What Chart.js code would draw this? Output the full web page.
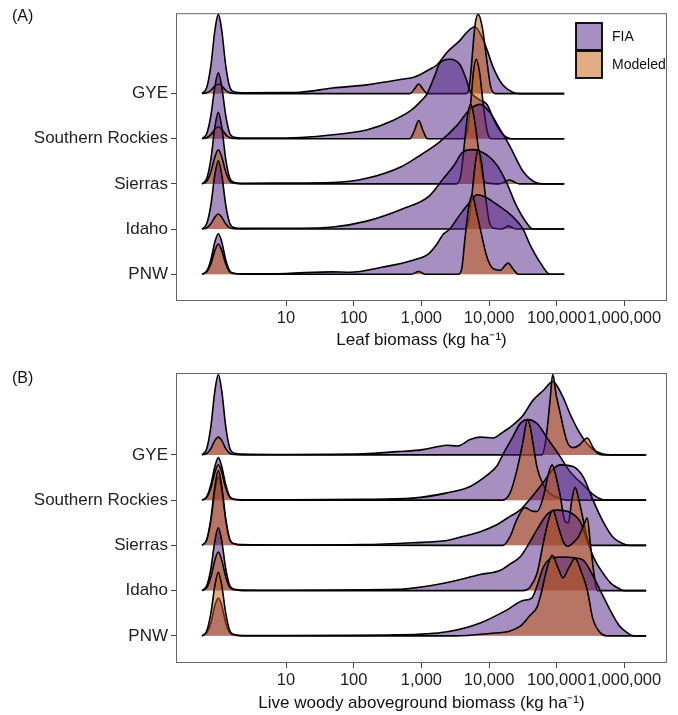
<!DOCTYPE html>
<html>
<head>
<meta charset="utf-8">
<script src="https://cdn.jsdelivr.net/npm/chart.js@4.4.1/dist/chart.umd.min.js"></script>
<style>
  body { margin: 0; background: #fff; }
  #wrap { position: relative; width: 678px; height: 715px; }
  canvas { position: absolute; left: 0; }
</style>
</head>
<body>
<div id="wrap">
  <canvas id="leafChart" width="678" height="357" style="top:0"></canvas>
  <canvas id="woodChart" width="678" height="358" style="top:357px"></canvas>
</div>
<script>
// ridges from top to bottom
const regions = ['GYE', 'Southern Rockies', 'Sierras', 'Idaho', 'PNW'];
// x positions are log10(biomass), heights are scaled density (peak = 1)
const xTicks = [1, 2, 3, 4, 5, 6];

// (A) leaf biomass
const leafFiaGYE = [[-0.24,0],[-0.17,0.08],[-0.11,0.35],[-0.05,0.8],[0,1],[0.05,0.8],[0.11,0.35],[0.17,0.08],[0.24,0.02],[0.35,0.01],[1,0.012],[1.21,0.016],[1.69,0.07],[2.19,0.11],[2.71,0.18],[2.9,0.21],[3.11,0.3],[3.23,0.36],[3.38,0.52],[3.57,0.67],[3.67,0.77],[3.79,0.84],[3.91,0.68],[3.97,0.55],[4.06,0.33],[4.2,0.11],[4.34,0.02],[4.46,0],[5.11,0]];
const leafModGYE = [[-0.24,0],[-0.17,0.01],[-0.11,0.042],[-0.05,0.096],[0,0.12],[0.05,0.096],[0.11,0.042],[0.17,0.01],[0.24,0.002],[0.35,0],[2.83,0],[2.9,0.06],[2.96,0.12],[3.02,0.06],[3.09,0],[3.66,0],[3.71,0.1],[3.75,0.46],[3.79,0.85],[3.84,1],[3.9,0.83],[3.96,0.46],[4.02,0.1],[4.09,0],[5.11,0]];
const leafFiaSR = [[-0.24,0],[-0.17,0.066],[-0.11,0.29],[-0.05,0.66],[0,0.83],[0.05,0.66],[0.11,0.29],[0.17,0.066],[0.24,0.017],[0.35,0.008],[1,0.01],[1.21,0.015],[1.69,0.05],[2.19,0.11],[2.58,0.23],[2.85,0.36],[3,0.48],[3.08,0.56],[3.2,0.8],[3.27,0.95],[3.42,1],[3.57,0.93],[3.67,0.73],[3.72,0.6],[3.84,0.5],[3.97,0.43],[4.09,0.2],[4.2,0.06],[4.34,0],[5.11,0]];
const leafModSR = [[-0.24,0],[-0.17,0.012],[-0.11,0.052],[-0.05,0.12],[0,0.15],[0.05,0.12],[0.11,0.052],[0.17,0.012],[0.24,0.003],[0.35,0],[2.83,0],[2.9,0.11],[2.96,0.23],[3.02,0.11],[3.09,0],[3.62,0],[3.68,0.1],[3.73,0.46],[3.77,0.85],[3.81,1],[3.86,0.83],[3.91,0.46],[3.97,0.1],[4.03,0],[5.11,0]];
const leafFiaSierras = [[-0.24,0],[-0.17,0.072],[-0.11,0.31],[-0.05,0.72],[0,0.9],[0.05,0.72],[0.11,0.31],[0.17,0.072],[0.24,0.018],[0.35,0.009],[1,0.01],[1.69,0.016],[2.19,0.07],[2.71,0.22],[3,0.37],[3.27,0.53],[3.53,0.74],[3.72,0.94],[3.87,1],[4.01,0.9],[4.16,0.69],[4.31,0.47],[4.5,0.16],[4.71,0.01],[4.8,0],[5.11,0]];
const leafModSierras = [[-0.24,0],[-0.17,0.034],[-0.11,0.15],[-0.05,0.34],[0,0.43],[0.05,0.34],[0.11,0.15],[0.17,0.034],[0.24,0.009],[0.35,0],[3.52,0],[3.58,0.1],[3.63,0.46],[3.68,0.85],[3.73,1],[3.78,0.83],[3.84,0.46],[3.9,0.1],[3.97,0.01],[4.15,0],[4.22,0.02],[4.3,0.05],[4.38,0.02],[4.45,0],[5.11,0]];
const leafFiaIdaho = [[-0.24,0],[-0.17,0.069],[-0.11,0.3],[-0.05,0.69],[0,0.86],[0.05,0.69],[0.11,0.3],[0.17,0.069],[0.24,0.017],[0.35,0.009],[1,0.01],[1.21,0.01],[1.69,0.025],[2.19,0.1],[2.71,0.25],[3.11,0.41],[3.32,0.63],[3.48,0.8],[3.6,0.96],[3.75,1],[3.97,0.93],[4.12,0.8],[4.26,0.58],[4.4,0.3],[4.56,0.07],[4.65,0],[5.11,0]];
const leafModIdaho = [[-0.24,0],[-0.17,0.015],[-0.11,0.066],[-0.05,0.15],[0,0.19],[0.05,0.15],[0.11,0.066],[0.17,0.015],[0.24,0.004],[0.35,0],[3.63,0],[3.7,0.1],[3.75,0.46],[3.8,0.85],[3.84,1],[3.89,0.83],[3.94,0.46],[4,0.1],[4.07,0.01],[4.18,0],[4.24,0.02],[4.28,0.04],[4.34,0.02],[4.4,0],[5.11,0]];
const leafFiaPNW = [[-0.24,0],[-0.17,0.041],[-0.11,0.18],[-0.05,0.41],[0,0.51],[0.05,0.41],[0.11,0.18],[0.17,0.041],[0.24,0.01],[0.35,0.005],[1,0.01],[1.69,0.03],[1.94,0.025],[2.43,0.09],[2.85,0.17],[3.11,0.26],[3.23,0.38],[3.32,0.5],[3.42,0.57],[3.57,0.75],[3.72,0.91],[3.82,1],[3.97,0.96],[4.06,0.91],[4.26,0.79],[4.41,0.67],[4.5,0.57],[4.6,0.38],[4.76,0.14],[4.9,0],[5.11,0]];
const leafModPNW = [[-0.24,0],[-0.17,0.03],[-0.11,0.13],[-0.05,0.3],[0,0.38],[0.05,0.3],[0.11,0.13],[0.17,0.03],[0.24,0.008],[0.35,0],[2.85,0],[2.96,0.035],[3.06,0],[3.55,0],[3.6,0.09],[3.64,0.42],[3.7,0.85],[3.75,1],[3.81,0.8],[3.87,0.57],[3.97,0.21],[4.06,0.07],[4.16,0.05],[4.28,0.14],[4.36,0.06],[4.43,0],[5.11,0]];

// (B) live woody aboveground biomass
const woodFiaGYE = [[-0.24,0],[-0.17,0.08],[-0.11,0.35],[-0.05,0.8],[0,1],[0.05,0.8],[0.11,0.35],[0.17,0.08],[0.24,0.02],[0.35,0.01],[1,0.005],[2.14,0.012],[2.64,0.04],[3.02,0.065],[3.23,0.1],[3.38,0.12],[3.53,0.11],[3.72,0.19],[3.87,0.22],[4.06,0.21],[4.2,0.28],[4.35,0.37],[4.5,0.49],[4.65,0.68],[4.8,0.8],[4.94,0.91],[5.09,0.72],[5.19,0.52],[5.3,0.33],[5.42,0.17],[5.53,0.07],[5.68,0.01],[5.8,0],[6.32,0]];
const woodModGYE = [[-0.24,0],[-0.17,0.018],[-0.11,0.077],[-0.05,0.18],[0,0.22],[0.05,0.18],[0.11,0.077],[0.17,0.018],[0.24,0.004],[0.35,0],[4.78,0],[4.84,0.2],[4.9,0.67],[4.94,1],[4.99,0.75],[5.05,0.52],[5.15,0.17],[5.24,0.09],[5.33,0.12],[5.45,0.21],[5.53,0.1],[5.6,0.02],[5.68,0],[6.32,0]];
const woodFiaSR = [[-0.24,0],[-0.17,0.042],[-0.11,0.19],[-0.05,0.42],[0,0.53],[0.05,0.42],[0.11,0.19],[0.17,0.042],[0.24,0.011],[0.35,0.005],[1,0.005],[2.14,0.01],[2.87,0.025],[3.38,0.09],[3.72,0.17],[3.97,0.31],[4.12,0.43],[4.2,0.56],[4.34,0.77],[4.46,0.95],[4.57,1],[4.71,0.95],[4.86,0.77],[5.05,0.54],[5.19,0.36],[5.39,0.19],[5.57,0.05],[5.74,0],[6.32,0]];
const woodModSR = [[-0.24,0],[-0.17,0.035],[-0.11,0.15],[-0.05,0.35],[0,0.44],[0.05,0.35],[0.11,0.15],[0.17,0.035],[0.24,0.009],[0.35,0],[4.2,0],[4.31,0.09],[4.41,0.37],[4.49,0.68],[4.57,1],[4.61,0.9],[4.65,0.7],[4.71,0.4],[4.8,0.19],[4.9,0.08],[5.05,0.02],[5.15,0],[6.32,0]];
const woodFiaSierras = [[-0.24,0],[-0.17,0.068],[-0.11,0.3],[-0.05,0.68],[0,0.85],[0.05,0.68],[0.11,0.3],[0.17,0.068],[0.24,0.017],[0.35,0.009],[1,0.005],[2.14,0.01],[2.87,0.033],[3.38,0.06],[3.61,0.11],[3.87,0.17],[4.12,0.26],[4.31,0.36],[4.46,0.44],[4.6,0.57],[4.8,0.78],[4.94,0.94],[5.05,1],[5.24,0.98],[5.39,0.85],[5.53,0.57],[5.68,0.3],[5.83,0.1],[5.98,0.02],[6.08,0],[6.32,0]];
const woodModSierras = [[-0.24,0],[-0.17,0.074],[-0.11,0.33],[-0.05,0.74],[0,0.93],[0.05,0.74],[0.11,0.33],[0.17,0.074],[0.24,0.019],[0.35,0.005],[4.2,0],[4.31,0.11],[4.41,0.32],[4.53,0.47],[4.62,0.43],[4.71,0.42],[4.8,0.6],[4.88,0.9],[4.93,1],[4.99,0.85],[5.05,0.62],[5.12,0.3],[5.17,0.28],[5.22,0.55],[5.27,0.72],[5.33,0.55],[5.4,0.28],[5.46,0.06],[5.52,0],[6.32,0]];
const woodFiaIdaho = [[-0.24,0],[-0.17,0.062],[-0.11,0.27],[-0.05,0.62],[0,0.78],[0.05,0.62],[0.11,0.27],[0.17,0.062],[0.24,0.016],[0.35,0.008],[1,0.005],[2.64,0.015],[3.38,0.1],[3.87,0.2],[4.16,0.25],[4.31,0.33],[4.46,0.42],[4.6,0.6],[4.71,0.76],[4.86,0.95],[5,1],[5.2,0.97],[5.35,0.85],[5.45,0.62],[5.55,0.4],[5.68,0.22],[5.8,0.09],[5.93,0.02],[6,0],[6.32,0]];
const woodModIdaho = [[-0.24,0],[-0.17,0.038],[-0.11,0.17],[-0.05,0.38],[0,0.48],[0.05,0.38],[0.11,0.17],[0.17,0.038],[0.24,0.01],[0.35,0],[4.5,0],[4.6,0.04],[4.71,0.22],[4.8,0.59],[4.87,0.85],[4.94,1],[5.02,0.8],[5.1,0.6],[5.16,0.55],[5.25,0.6],[5.33,0.68],[5.4,0.82],[5.45,0.9],[5.5,0.55],[5.56,0.15],[5.6,0],[6.32,0]];
const woodFiaPNW = [[-0.24,0],[-0.17,0.038],[-0.11,0.16],[-0.05,0.38],[0,0.47],[0.05,0.38],[0.11,0.16],[0.17,0.038],[0.24,0.009],[0.35,0.005],[1,0.005],[2.64,0.012],[3.38,0.05],[3.87,0.16],[4.26,0.32],[4.5,0.44],[4.63,0.47],[4.72,0.65],[4.8,0.85],[4.94,0.97],[5.1,0.98],[5.25,0.97],[5.39,0.94],[5.55,0.72],[5.68,0.5],[5.8,0.3],[5.92,0.13],[6.04,0.04],[6.13,0],[6.32,0]];
const woodModPNW = [[-0.24,0],[-0.17,0.063],[-0.11,0.28],[-0.05,0.63],[0,0.79],[0.05,0.63],[0.11,0.28],[0.17,0.063],[0.24,0.016],[0.35,0],[3.5,0],[4.01,0.03],[4.31,0.06],[4.46,0.12],[4.6,0.25],[4.71,0.36],[4.76,0.5],[4.86,0.85],[4.93,1],[5.02,0.84],[5.09,0.72],[5.18,0.85],[5.27,0.96],[5.36,0.8],[5.45,0.57],[5.53,0.22],[5.64,0.04],[5.74,0],[6.32,0]];

const fiaFill = 'rgba(79, 31, 133, 0.5)';
const modFill = 'rgba(199, 91, 9, 0.5)';
const font = "'Liberation Sans', Arial, sans-serif";

Chart.defaults.font.family = font;
Chart.defaults.color = '#222';

function ridgeSets(fiaRows, modRows, scale) {
  let sets = [];
  regions.forEach((name, i) => {
    let base = regions.length - 1 - i;
    [[fiaRows[i], fiaFill, 'FIA'], [modRows[i], modFill, 'Modeled']].forEach(([pts, col, src]) => {
      sets.push({
        label: name + ' ' + src,
        data: pts.map(p => ({x: p[0], y: base + p[1] * scale})),
        fill: {value: base},
        backgroundColor: col,
        borderColor: '#000',
        borderWidth: 1.6,
        borderJoinStyle: 'round',
        pointRadius: 0,
        cubicInterpolationMode: 'monotone',
        clip: false
      });
    });
  });
  // first dataset is drawn last, so the bottom ridge ends up on top
  return sets.reverse();
}

const panelDecor = {
  id: 'panelDecor',
  afterDatasetsDraw(chart, args, opts) {
    const ctx = chart.ctx;
    const a = chart.chartArea;
    ctx.save();
    ctx.strokeStyle = '#666';
    ctx.lineWidth = 1;
    ctx.strokeRect(a.left + 0.5, a.top + 0.5, a.right - a.left - 1, a.bottom - a.top - 1);
    ctx.fillStyle = '#111';
    ctx.font = '16px ' + font;
    ctx.textBaseline = 'middle';
    ctx.textAlign = 'left';
    ctx.fillText(opts.tag, 12, opts.tagY);
    if (opts.legend) {
      const items = [['FIA', fiaFill], ['Modeled', modFill]];
      items.forEach(([txt, col], i) => {
        const y = 23 + i * 28;
        ctx.fillStyle = '#fff';
        ctx.fillRect(576, y, 26, 27);
        ctx.fillStyle = col;
        ctx.fillRect(576, y, 26, 27);
        ctx.strokeStyle = '#000';
        ctx.lineWidth = 1.8;
        ctx.strokeRect(576, y, 26, 27);
        ctx.fillStyle = '#111';
        ctx.font = '14px ' + font;
        ctx.fillText(txt, 612, y + 14);
      });
    }
    ctx.restore();
  }
};

function makeChart(id, sets, cfg) {
  return new Chart(document.getElementById(id), {
    type: 'line',
    data: {datasets: sets},
    plugins: [panelDecor],
    options: {
      responsive: false,
      animation: false,
      devicePixelRatio: 1,
      layout: {padding: {top: cfg.padTop, right: 11, left: 0, bottom: 0}},
      plugins: {
        legend: {display: false},
        tooltip: {enabled: false},
        panelDecor: {tag: cfg.tag, tagY: cfg.tagY, legend: cfg.legend}
      },
      scales: {
        x: {
          type: 'linear',
          min: -0.625,
          max: 6.628,
          afterBuildTicks: s => { s.ticks = xTicks.map(v => ({value: v})); },
          afterFit: s => { s.height = cfg.xHeight; },
          ticks: {
            callback: v => Math.round(Math.pow(10, v)).toLocaleString('en-US'),
            autoSkip: false, maxRotation: 0, minRotation: 0,
            color: '#222', font: {size: 16.5}, padding: 3
          },
          grid: {drawOnChartArea: false, tickLength: 5, color: '#444'},
          border: {display: false},
          title: {display: true, text: cfg.xTitle, color: '#111', font: {size: 17}, padding: {top: 0, bottom: cfg.titlePad}}
        },
        y: {
          type: 'linear',
          min: cfg.yMin,
          max: cfg.yMax,
          afterBuildTicks: s => { s.ticks = regions.map((r, i) => ({value: regions.length - 1 - i})); },
          afterFit: s => { s.width = 176; },
          ticks: {
            callback: v => regions[regions.length - 1 - v],
            color: '#222', font: {size: 17}, padding: 3
          },
          grid: {drawOnChartArea: false, tickLength: 5, color: '#444'},
          border: {display: false}
        }
      }
    }
  });
}

makeChart('leafChart',
  ridgeSets([leafFiaGYE, leafFiaSR, leafFiaSierras, leafFiaIdaho, leafFiaPNW],
            [leafModGYE, leafModSR, leafModSierras, leafModIdaho, leafModPNW], 1.76),
  {padTop: 11, xHeight: 56, titlePad: 6, yMin: -0.593, yMax: 5.78,
   xTitle: 'Leaf biomass (kg ha\u207B\u00B9)', tag: '(A)', tagY: 17, legend: true});

makeChart('woodChart',
  ridgeSets([woodFiaGYE, woodFiaSR, woodFiaSierras, woodFiaIdaho, woodFiaPNW],
            [woodModGYE, woodModSR, woodModSierras, woodModIdaho, woodModPNW], 1.78),
  {padTop: 16, xHeight: 52, titlePad: 1, yMin: -0.6, yMax: 5.81,
   xTitle: 'Live woody aboveground biomass (kg ha\u207B\u00B9)', tag: '(B)', tagY: 22, legend: false});
</script>
</body>
</html>
